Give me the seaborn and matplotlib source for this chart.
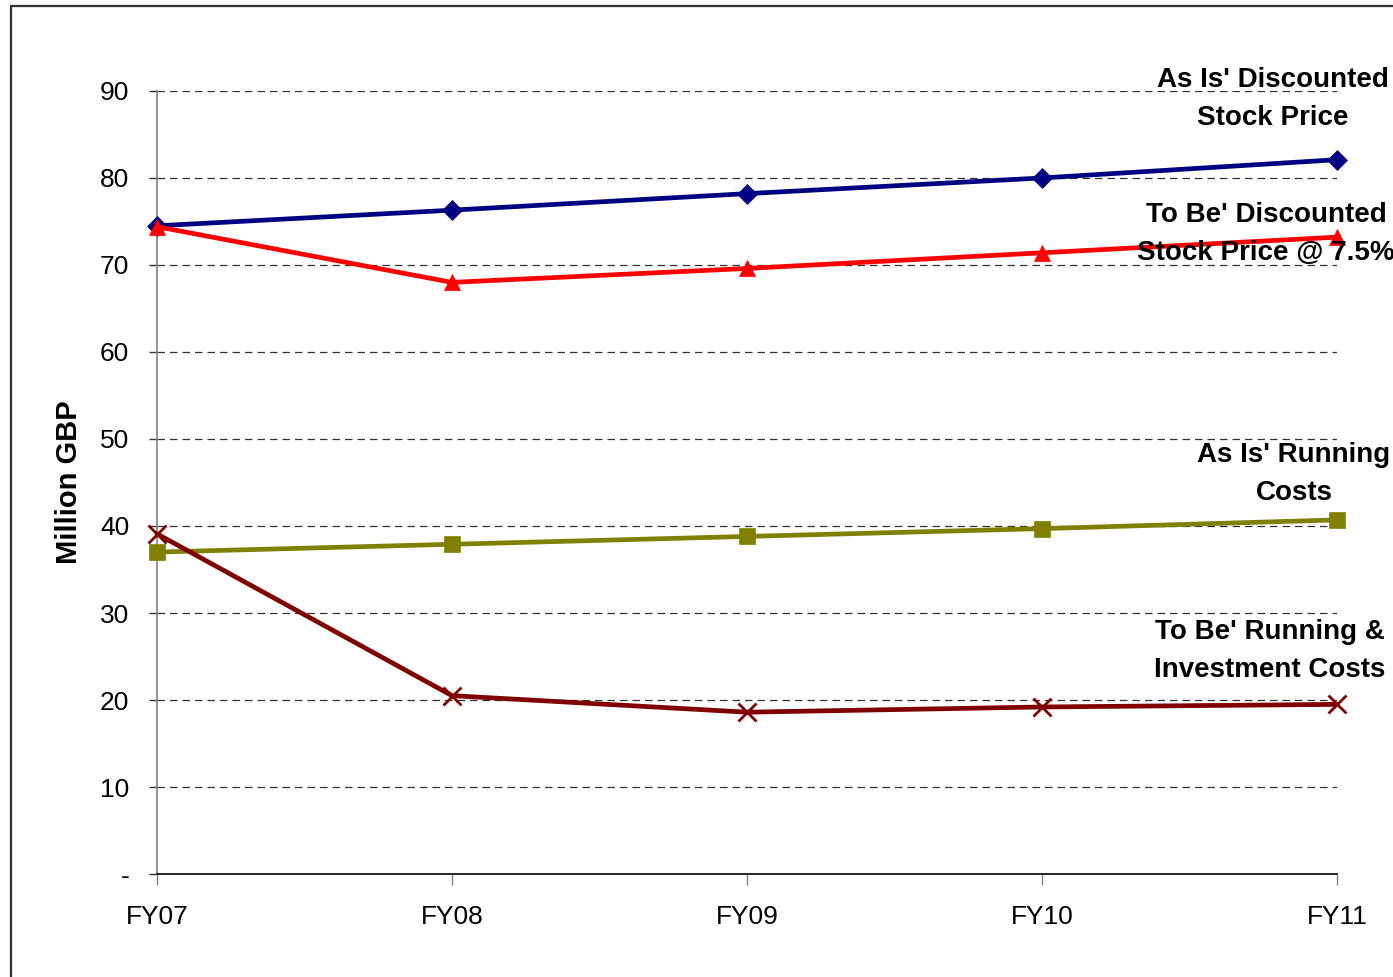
import matplotlib
matplotlib.use("Agg")
import matplotlib.pyplot as plt
from matplotlib.patches import Rectangle
import seaborn as sns
import pandas as pd

years = ["FY07", "FY08", "FY09", "FY10", "FY11"]
as_is_stock = [74.5, 76.3, 78.2, 80.0, 82.1]
to_be_stock = [74.4, 68.0, 69.6, 71.4, 73.2]
as_is_running = [37.0, 37.9, 38.8, 39.7, 40.7]
to_be_running = [39.1, 20.5, 18.6, 19.2, 19.5]

y_ticks = [0, 10, 20, 30, 40, 50, 60, 70, 80, 90]
y_tick_labels = ["-", "10", "20", "30", "40", "50", "60", "70", "80", "90"]

series_names = [
    "As Is' Discounted\nStock Price",
    "To Be' Discounted\nStock Price @ 7.5%",
    "As Is' Running\nCosts",
    "To Be' Running &\nInvestment Costs",
]
series_values = [as_is_stock, to_be_stock, as_is_running, to_be_running]
series_colors = ["#000080", "#FF0000", "#808000", "#800000"]
series_markers = ["D", "^", "s", "x"]
marker_sizes = [10, 12, 11, 13]

sns.set_theme(style="white")
plt.rcParams["font.family"] = ["Liberation Sans", "DejaVu Sans"]
plt.rcParams["text.color"] = "black"
plt.rcParams["xtick.color"] = "black"
plt.rcParams["ytick.color"] = "black"
plt.rcParams["axes.labelcolor"] = "black"

fig = plt.figure(figsize=(13.93, 9.77), dpi=100)
ax = fig.add_axes([0.1127, 0.1054, 0.9598 - 0.1127, 0.9069 - 0.1054])

# Outer frame of the chart area
fig.patches.append(Rectangle((11 / 1393, -0.05), 1.1, 0.9939 + 0.05,
                             transform=fig.transFigure, fill=False,
                             edgecolor="#333333", linewidth=1.6, zorder=0))

for name, vals, col, mk, ms in zip(series_names, series_values, series_colors,
                                   series_markers, marker_sizes):
    df = pd.DataFrame({"year": years, "value": vals})
    sns.lineplot(data=df, x="year", y="value", ax=ax, color=col, linewidth=3.4,
                 marker=mk, markersize=ms, markeredgecolor=col,
                 markeredgewidth=2 if mk == "x" else 0.5, clip_on=False,
                 zorder=5)

ax.set_xlim(0, 4)
ax.set_ylim(0, 90)
ax.set_yticks(y_ticks)
ax.set_yticklabels(y_tick_labels)

for yv in y_ticks[1:]:
    ax.axhline(yv, color="#333333", linewidth=0.9, linestyle=(0, (6, 4)), zorder=1)

for side in ["top", "right"]:
    ax.spines[side].set_visible(False)
ax.spines["left"].set_color("#808080")
ax.spines["left"].set_linewidth(1.2)
ax.spines["bottom"].set_color("#000000")
ax.spines["bottom"].set_linewidth(1.2)

ax.tick_params(axis="y", direction="out", length=6, width=1, color="#333333",
               labelcolor="black", labelsize=19, pad=14, left=True)
ax.tick_params(axis="x", direction="out", length=8, width=1, color="#808080",
               labelcolor="black", labelsize=19, pad=14, bottom=True)
ax.set_xlabel("")
ax.set_ylabel("Million GBP", fontsize=21, fontweight="bold", labelpad=12,
              color="black")

# Series labels placed to the right of the lines
label_pos = [(1273, 99), (1266, 234), (1294, 474), (1270, 651)]
for name, (px, py) in zip(series_names, label_pos):
    fig.text(px / 1393, 1 - py / 977, name, ha="center", va="center",
             fontsize=20, fontweight="bold", linespacing=1.6, color="black")

fig.savefig("out.png", dpi=100, facecolor="white")
